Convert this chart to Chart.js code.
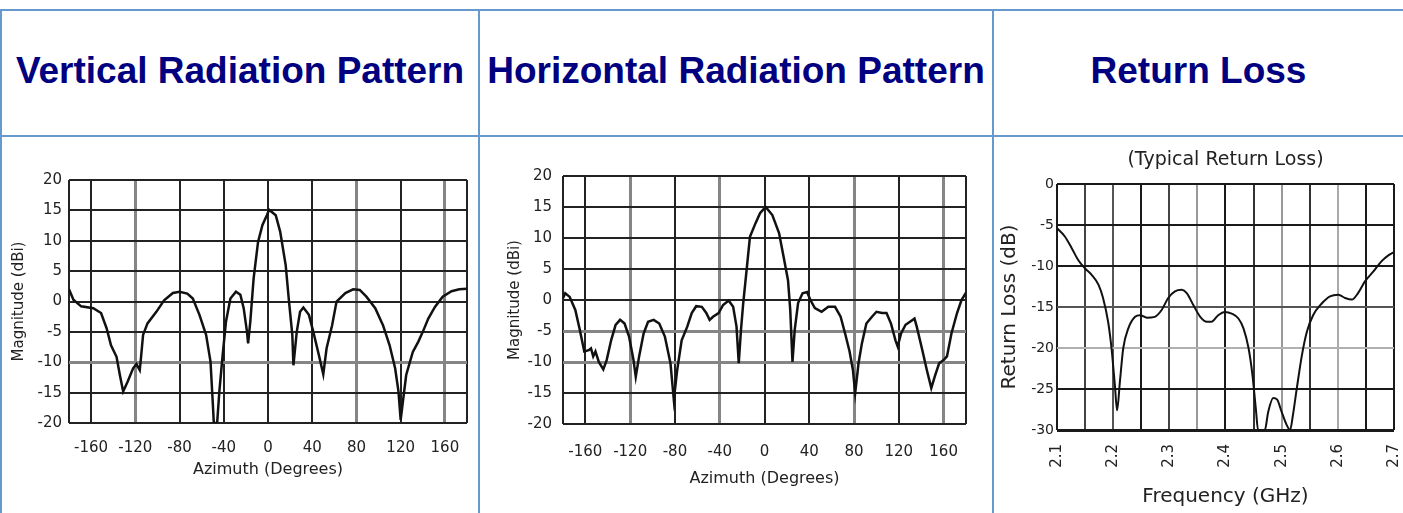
<!DOCTYPE html>
<html>
<head>
<meta charset="utf-8">
<script src="https://cdn.jsdelivr.net/npm/chart.js@4.4.1/dist/chart.umd.min.js"></script>
<style>
  html, body { margin: 0; padding: 0; background: #fff; overflow: hidden; }
  #page { position: relative; width: 1403px; height: 513px; }
  .hline, .vline { position: absolute; background: #6699cc; }
  .hline { left: 0; width: 1403px; height: 2px; }
  .vline { top: 9px; width: 2px; height: 504px; }
  .head {
    position: absolute; top: 9px; height: 124px;
    display: flex; align-items: center; justify-content: center;
    font: bold 37px "Liberation Sans", Arial, sans-serif; color: #000080;
    white-space: nowrap;
  }
  .box { position: absolute; top: 140px; height: 373px; }
  .box canvas { display: block; }
</style>
</head>
<body>
<div id="page">
  <div class="hline" style="top:9px"></div>
  <div class="hline" style="top:135px"></div>
  <div class="vline" style="left:0"></div>
  <div class="vline" style="left:478px"></div>
  <div class="vline" style="left:992px"></div>

  <div class="head" style="left:2px;width:476px">Vertical Radiation Pattern</div>
  <div class="head" style="left:480px;width:512px">Horizontal Radiation Pattern</div>
  <div class="head" style="left:994px;width:409px">Return Loss</div>

  <div class="box" style="left:0;width:478px"><canvas id="vertChart" width="478" height="373"></canvas></div>
  <div class="box" style="left:480px;width:512px"><canvas id="horzChart" width="512" height="373"></canvas></div>
  <div class="box" style="left:994px;width:409px"><canvas id="rlChart" width="409" height="373"></canvas></div>
</div>

<script>
// --- DATA ---
const azTicks = [-180, -160, -120, -80, -40, 0, 40, 80, 120, 160, 180];
const azTickLabels = ['-160', '-120', '-80', '-40', '0', '40', '80', '120', '160'];

const vertAz = [-180, -176, -169, -158, -151, -146, -142, -137, -134, -131, -127, -122, -119, -116, -115, -113,
  -109, -101, -94, -86, -80, -73, -68, -62, -56, -52, -50, -49, -46, -44, -41, -38, -34, -29, -25, -22, -19, -18,
  -16, -13, -9, -5, -1, 1, 7, 11, 16, 19, 22, 23, 26, 29, 32, 37, 41, 46, 50, 53, 58, 62, 70, 77, 83, 89, 97,
  104, 110, 115, 118, 120, 122, 125, 128, 131, 136, 140, 145, 151, 158, 166, 173, 180];
const vertMag = [2.0, 0.3, -0.8, -1.1, -1.9, -4.4, -7.2, -9.1, -12.1, -14.8, -13.2, -11, -10.3, -11.3, -9.5, -5.5,
  -3.6, -1.7, 0.2, 1.4, 1.6, 1.3, 0.5, -2.2, -5.5, -9.9, -16.5, -20, -20, -14.8, -8.8, -3.3, 0.5, 1.6, 1.1, -1.1, -5, -6.9,
  -3.3, 3.8, 9.8, 12.6, 14.2, 15.1, 14.2, 11.5, 6, 0, -5.5, -10.5, -5, -1.7, -1.0, -2.2, -5, -8.8, -12, -7.7, -3.9, 0, 1.4, 2.0, 1.9, 0.8, -1.1,
  -3.9, -7.2, -11, -14.8, -19.5, -16.5, -12.1, -10.2, -8.3, -6.6, -5, -2.8, -0.9, 0.8, 1.7, 2.0, 2.1];

const horzAz = [-180, -178, -174, -169, -165, -161, -157, -155, -153, -151, -148, -144, -141, -137, -133, -129, -125,
  -121, -117, -115, -112, -108, -104, -99, -94, -89, -84, -81, -78, -74, -69, -65, -61, -56, -52, -49, -46, -41, -37,
  -32, -28, -25, -23, -21, -19, -16, -13, -8, -4, 1, 7, 13, 17, 21, 23, 25, 27, 30, 34, 38, 41, 45, 51, 57, 63, 68,
  72, 76, 79, 81, 84, 87, 91, 96, 100, 105, 109, 113, 117, 119, 122, 126, 130, 134, 136, 141, 145, 149, 152, 156,
  160, 163, 167, 172, 176, 180];
const horzMag = [0.3, 1.1, 0.5, -1.6, -4.8, -8.3, -8.1, -7.8, -9.1, -8.3, -10, -11.2, -9.7, -6.5, -4.0, -3.2, -3.8,
  -5.9, -9.7, -12.4, -9.1, -5.4, -3.5, -3.2, -3.8, -5.9, -10.2, -16.1, -11.3, -6.5, -4.3, -2.1, -1.0, -1.1, -2.1, -3.2, -2.7, -2.1, -0.8,
  -0.1, -1.1, -4.3, -10.2, -4.8, -0.5, 4.8, 10.2, 12.4, 14, 15, 13.7, 10.8, 7, 3.2, -1.6, -10, -4.8, -0.5, 1.1, 1.3, 0, -1.3, -1.9, -1.1, -1.1, -2.7,
  -5.4, -8.3, -11.3, -15, -10.2, -7, -3.8, -2.7, -1.9, -2.1, -2.1, -3.8, -6.5, -7.5, -5.4, -4.0, -3.5, -3.0, -4.3, -8.1, -11.3, -14.2, -12.4, -10.2,
  -9.7, -9.1, -5.4, -2.1, 0, 1.2];

const rlTicks = [2.1, 2.15, 2.2, 2.25, 2.3, 2.35, 2.4, 2.45, 2.5, 2.55, 2.6, 2.65, 2.7];
const rlTickLabels = ['2.1', '2.2', '2.3', '2.4', '2.5', '2.6', '2.7'];
const rlFreq = [2.100, 2.114, 2.126, 2.138, 2.150, 2.162, 2.174, 2.182, 2.191, 2.197, 2.203, 2.207, 2.212, 2.218,
  2.227, 2.239, 2.248, 2.260, 2.274, 2.286, 2.298, 2.310, 2.322, 2.331, 2.343, 2.355, 2.367, 2.375, 2.387, 2.399,
  2.411, 2.423, 2.432, 2.441, 2.448, 2.454, 2.458, 2.470, 2.476, 2.485, 2.492, 2.500, 2.509, 2.515, 2.520, 2.527,
  2.536, 2.545, 2.556, 2.571, 2.586, 2.601, 2.613, 2.625, 2.636, 2.648, 2.663, 2.678, 2.690, 2.700];
const rlLoss = [-5.4, -6.4, -7.8, -9.3, -10.3, -11.1, -12.3, -13.9, -16.8, -20, -24.5, -27.6, -24.1, -20,
  -17.6, -16.2, -16, -16.3, -16.2, -15.4, -13.9, -13.1, -12.9, -13.3, -14.8, -16.2, -16.8, -16.8, -16, -15.6,
  -15.8, -16.4, -17.6, -20, -23.3, -27.4, -30, -30, -27.8, -26.1, -26.3, -27.8, -29.4, -30, -28.2, -24.9,
  -20.9, -18, -16, -14.6, -13.7, -13.5, -13.9, -14.1, -13.3, -11.9, -10.7, -9.4, -8.7, -8.3];

// --- HELPERS ---
const FONT = 'DejaVu Sans';
const TEXT = '#222';

function points(xs, ys) {
  return xs.map((x, i) => ({ x: x, y: ys[i] }));
}

function fixedWidth(w) {
  return scale => { scale.width = w; };
}
// fixed axis height, and no extra side room for the end labels
function fixedHeight(h) {
  return scale => {
    scale.height = h;
    scale.paddingLeft = 0;
    scale.paddingRight = 0;
  };
}

// grid line look, picked per line to mimic the scanned charts
function gridStyle(grayX, grayY) {
  return {
    x: {
      drawTicks: false,
      color: c => grayX.includes(c.tick.value) ? '#858585' : '#222',
      lineWidth: c => grayX.includes(c.tick.value) ? 3 : 2
    },
    y: {
      drawTicks: false,
      color: c => grayY.includes(c.tick.value) ? '#858585' : '#222',
      lineWidth: c => grayY.includes(c.tick.value) ? 3 : 2
    }
  };
}

function azimuthChart(id, az, mag, o) {
  const g = gridStyle(o.grayX, o.grayY);
  return new Chart(document.getElementById(id), {
    type: 'line',
    data: {
      datasets: [{
        data: points(az, mag),
        borderColor: '#111',
        borderWidth: 2.5,
        pointRadius: 0,
        tension: 0,
        fill: false
      }]
    },
    options: {
      responsive: false,
      animation: false,
      layout: { padding: { left: 0, top: o.top, right: o.right, bottom: o.bottom } },
      plugins: { legend: { display: false }, tooltip: { enabled: false } },
      scales: {
        x: {
          type: 'linear', min: -180, max: 180,
          afterBuildTicks: s => { s.ticks = azTicks.map(v => ({ value: v })); },
          afterFit: fixedHeight(o.xHeight),
          border: { display: false },
          grid: g.x,
          ticks: {
            autoSkip: false, maxRotation: 0, padding: o.xPad, color: TEXT,
            font: { family: FONT, size: 15 },
            callback: v => azTickLabels.includes(String(v)) ? String(v) : ''
          },
          title: {
            display: true, text: 'Azimuth (Degrees)', color: TEXT,
            font: { family: FONT, size: 16 }, padding: 0
          }
        },
        y: {
          min: -20, max: 20,
          ticks: { stepSize: 5, padding: o.yPad, color: TEXT, font: { family: FONT, size: 15 } },
          afterFit: fixedWidth(o.yWidth),
          border: { display: false },
          grid: g.y,
          title: {
            display: true, text: 'Magnitude (dBi)', color: TEXT,
            font: { family: FONT, size: 15 }, padding: { top: o.yTitlePad, bottom: 0 }
          }
        }
      }
    }
  });
}

// --- CHARTS ---
azimuthChart('vertChart', vertAz, vertMag, {
  top: 40, right: 11, bottom: 34, xHeight: 56, xPad: 16, yWidth: 69, yPad: 7, yTitlePad: 10,
  grayX: [-120, 80, 160], grayY: [-10]
});

azimuthChart('horzChart', horzAz, horzMag, {
  top: 36, right: 26, bottom: 25, xHeight: 64, xPad: 19, yWidth: 83, yPad: 11, yTitlePad: 26,
  grayX: [-120, -40, 80, 160], grayY: [-5, -10]
});

const rlGrayX = { 215: '#444', 220: '#555', 230: '#444', 235: '#999', 245: '#333', 250: '#999', 255: '#333', 260: '#aaa' };
const rlGrayY = { '-15': '#555', '-20': '#b0b0b0' };

new Chart(document.getElementById('rlChart'), {
  type: 'line',
  data: {
    datasets: [{
      data: points(rlFreq, rlLoss),
      borderColor: '#111',
      borderWidth: 2,
      pointRadius: 0,
      tension: 0.3,
      cubicInterpolationMode: 'monotone',
      fill: false
    }]
  },
  options: {
    responsive: false,
    animation: false,
    layout: { padding: { left: 0, top: 0, right: 9, bottom: 4 } },
    plugins: {
      legend: { display: false },
      tooltip: { enabled: false },
      title: {
        display: true, fullSize: false, text: '(Typical Return Loss)', color: TEXT,
        font: { family: FONT, size: 19, weight: 'normal' },
        padding: { top: 8.6, bottom: 12.6 }
      }
    },
    scales: {
      x: {
        type: 'linear', min: 2.1, max: 2.7,
        afterBuildTicks: s => { s.ticks = rlTicks.map(v => ({ value: v })); },
        afterFit: fixedHeight(79),
        border: { display: false },
        grid: {
          drawTicks: false,
          color: c => rlGrayX[Math.round(c.tick.value * 100)] || '#1a1a1a',
          lineWidth: 2
        },
        ticks: {
          autoSkip: false, minRotation: 90, maxRotation: 90, padding: 14, color: TEXT,
          font: { family: FONT, size: 15 },
          callback: v => {
            const t = v.toFixed(1);
            return Math.round(v * 100) % 10 === 0 && rlTickLabels.includes(t) ? t : '';
          }
        },
        title: {
          display: true, text: 'Frequency (GHz)', color: TEXT,
          font: { family: FONT, size: 20 }, padding: 0
        }
      },
      y: {
        min: -30, max: 0,
        afterFit: fixedWidth(63),
        border: { display: false },
        grid: {
          drawTicks: false,
          color: c => rlGrayY[String(c.tick.value)] || '#1a1a1a',
          lineWidth: c => c.tick.value === -30 ? 3 : 2
        },
        ticks: { stepSize: 5, padding: 3, color: TEXT, font: { family: FONT, size: 14 } },
        title: {
          display: true, text: 'Return Loss (dB)', color: TEXT,
          font: { family: FONT, size: 20 }, padding: { top: 4, bottom: 0 }
        }
      }
    }
  }
});
</script>
</body>
</html>
